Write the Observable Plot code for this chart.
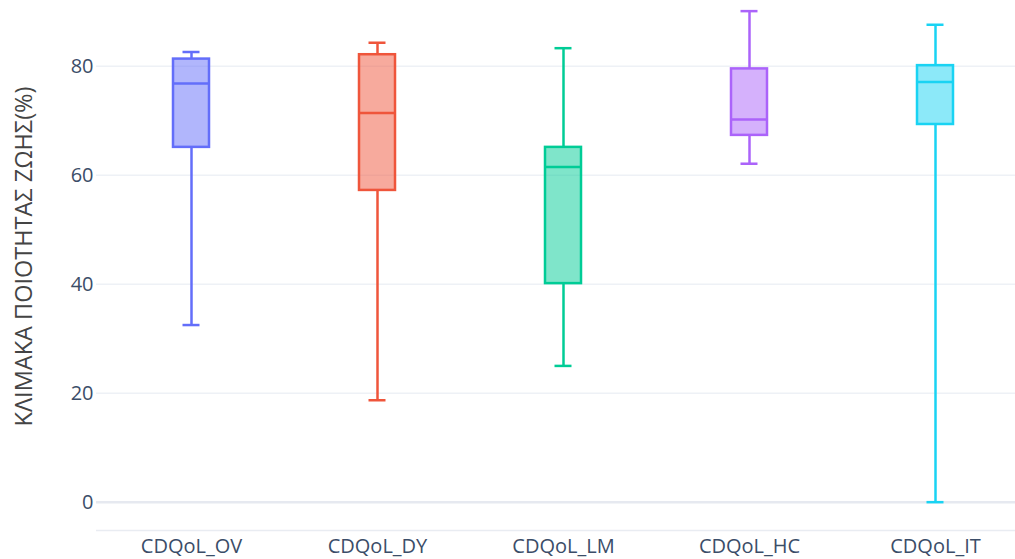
<!DOCTYPE html>
<html>
<head>
<meta charset="utf-8">
<script src="https://cdn.jsdelivr.net/npm/d3@7"></script>
<script src="https://cdn.jsdelivr.net/npm/@observablehq/plot@0.6"></script>
<style>
  html, body { margin: 0; padding: 0; background: #fff; }
  #chart svg { display: block; }
</style>
</head>
<body>
<div id="chart"></div>
<script>
// Quality-of-life subscale scores (%), five-number summary per subscale
const categories = ["CDQoL_OV", "CDQoL_DY", "CDQoL_LM", "CDQoL_HC", "CDQoL_IT"];
const lower  = [32.5, 18.7, 25.0, 62.1, 0.0];
const q1     = [65.1, 57.2, 40.1, 67.3, 69.3];
const median = [76.8, 71.4, 61.5, 70.2, 77.1];
const q3     = [81.3, 82.1, 65.1, 79.5, 80.1];
const upper  = [82.6, 84.3, 83.3, 90.1, 87.6];
const colors = ["#636efa", "#EF553B", "#00cc96", "#ab63fa", "#19d3f3"];
const yTicks = [0, 20, 40, 60, 80];
const yTitle = "ΚΛΙΜΑΚΑ ΠΟΙΟΤΗΤΑΣ ΖΩΗΣ(%)";
const yDomain = [-5.2, 92.05];

const rows = categories.map((c, i) => ({
  cat: c, lo: lower[i], q1: q1[i], med: median[i], q3: q3[i], hi: upper[i], color: colors[i]
}));

const font = "'Open Sans', 'Noto Sans', sans-serif";
const textColor = "#3b4d68";
const sw = 2.5;

const chart = Plot.plot({
  width: 1015,
  height: 559,
  marginLeft: 96,
  marginRight: 0,
  marginTop: 0,
  marginBottom: 29,
  style: { fontFamily: font, fontSize: "20px", color: textColor, background: "#fff" },
  x: {
    type: "band",
    domain: categories,
    range: [96, 1029],
    paddingInner: 0.807,
    paddingOuter: 0.4035,
    label: null
  },
  y: { domain: yDomain, range: [530, 0], label: null },
  marks: [
    // horizontal grid
    Plot.ruleY(yTicks.filter(d => d !== 0), { stroke: "#eef1f6", strokeWidth: 1.5 }),
    Plot.ruleY([0], { stroke: "#e6e9f0", strokeWidth: 2.5 }),
    Plot.ruleY([yDomain[0]], { stroke: "#e9ecf2", strokeWidth: 1.5 }),
    // whiskers
    Plot.ruleX(rows, { x: "cat", y1: "lo", y2: "q1", stroke: "color", strokeWidth: sw }),
    Plot.ruleX(rows, { x: "cat", y1: "q3", y2: "hi", stroke: "color", strokeWidth: sw }),
    // whisker caps
    Plot.tickY(rows, { x: "cat", y: "lo", stroke: "color", strokeWidth: sw, insetLeft: 9.5, insetRight: 9.5 }),
    Plot.tickY(rows, { x: "cat", y: "hi", stroke: "color", strokeWidth: sw, insetLeft: 9.5, insetRight: 9.5 }),
    // interquartile boxes
    Plot.barY(rows, { x: "cat", y1: "q1", y2: "q3", fill: "color", fillOpacity: 0.5, stroke: "color", strokeWidth: sw }),
    // medians
    Plot.tickY(rows, { x: "cat", y: "med", stroke: "color", strokeWidth: sw }),
    // axes
    Plot.axisY(yTicks, { tickSize: 0, tickPadding: 3, fontSize: 20, fill: textColor, label: null }),
    Plot.axisX({ tickSize: 0, tickPadding: 8.5, fontSize: 20, fill: textColor, label: null }),
    // y-axis title
    Plot.text([yTitle], {
      frameAnchor: "left", rotate: -90, dx: -72, dy: -9,
      textAnchor: "middle", lineAnchor: "middle",
      fontSize: 23.5, fill: "#444"
    })
  ]
});

document.getElementById("chart").appendChild(chart);
</script>
</body>
</html>
